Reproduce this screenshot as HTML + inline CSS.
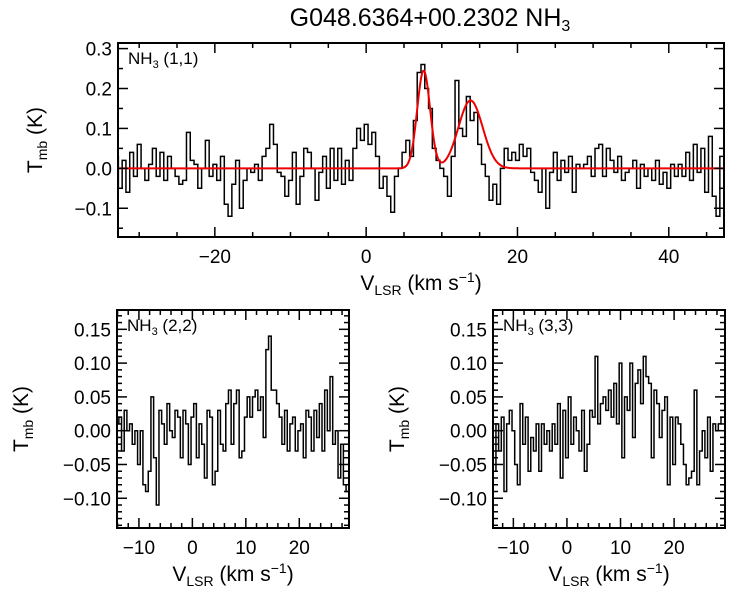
<!DOCTYPE html>
<html><head><meta charset="utf-8"><style>
body{margin:0;background:#fff;}
svg{display:block;font-family:"Liberation Sans",Arial,sans-serif;}
</style></head><body>
<svg id="c" width="750" height="600" viewBox="0 0 750 600"></svg>
<script>
const topStart=-33, topStep=0.5;
const topValues=[0.03,-0.05,0.02,-0.06,0.04,-0.02,0.06,0.00,-0.03,0.01,0.05,
-0.02,0.04,-0.03,0.03,0.00,-0.02,-0.04,-0.03,0.09,0.02,
0.01,-0.05,0.00,0.07,-0.02,0.01,-0.03,0.03,-0.09,-0.12,
-0.04,0.02,-0.10,-0.03,0.00,-0.01,0.01,-0.03,0.03,0.05,
0.11,0.06,-0.01,-0.02,-0.07,-0.03,0.04,-0.09,-0.02,0.05,
0.04,0.00,-0.08,-0.01,0.03,-0.05,0.05,-0.03,0.05,-0.04,
0.02,-0.03,0.05,0.10,0.07,0.11,0.06,0.09,0.03,-0.05,
-0.02,-0.07,-0.11,-0.02,0.00,0.04,0.07,0.03,0.12,0.24,
0.26,0.20,0.15,0.05,0.02,0.00,-0.02,-0.07,0.03,0.22,
0.10,0.08,0.18,0.12,0.14,0.06,0.01,-0.02,-0.08,-0.04,
-0.09,0.00,0.05,0.02,0.04,0.02,0.06,0.03,0.05,-0.01,
-0.03,-0.06,0.00,-0.10,-0.01,0.04,-0.03,0.02,-0.01,0.03,
-0.06,0.01,0.00,0.01,0.03,-0.02,0.05,0.06,-0.02,0.05,
0.02,-0.01,0.03,-0.03,-0.01,0.00,0.02,-0.05,0.01,-0.02,
0.00,-0.03,0.02,-0.04,-0.01,-0.05,0.01,-0.02,0.01,-0.02,
0.04,-0.03,0.06,-0.01,0.05,-0.06,0.08,-0.07,-0.12,0.03];
const fitAmps=[0.245,0.17];
const fitCenters=[7.6,13.8];
const fitSigmas=[0.85,1.6];
const lowStart=-14, lowStep=0.5;
const values22=[0.01,0.02,-0.03,0.03,0.00,0.01,-0.02,0.00,-0.05,0.00,
-0.08,-0.09,-0.06,0.05,-0.04,-0.11,0.03,0.01,-0.02,0.04,
0.00,-0.01,0.03,0.02,-0.04,0.03,0.01,-0.05,0.02,0.04,
-0.04,0.01,-0.02,-0.07,0.03,0.02,-0.08,-0.06,0.03,-0.02,
-0.03,0.04,0.06,-0.02,0.04,0.06,-0.04,-0.03,0.02,0.05,
0.02,0.05,0.06,0.03,0.05,-0.01,0.12,0.14,0.06,0.06,
0.04,0.02,-0.02,0.03,-0.03,0.01,0.02,-0.03,0.00,0.01,
-0.04,0.03,0.02,-0.03,0.03,-0.01,0.04,-0.03,0.06,0.00,
0.08,-0.02,0.00,-0.07,-0.02,-0.08,-0.09];
const values33=[0.03,-0.06,0.01,-0.03,0.02,-0.09,0.01,0.03,0.00,-0.05,
-0.08,0.04,-0.02,0.02,-0.06,-0.01,-0.03,0.01,-0.06,0.01,
-0.02,0.00,-0.03,0.01,-0.02,0.04,-0.07,0.03,-0.04,0.05,
-0.02,0.02,0.00,-0.03,0.03,-0.06,-0.02,0.03,0.02,0.11,
0.01,0.04,0.05,0.03,0.06,0.02,0.07,0.01,0.10,-0.04,
0.05,0.03,0.10,-0.01,0.07,0.09,0.04,0.11,0.08,0.07,
-0.04,0.06,0.04,-0.01,0.03,0.05,-0.08,0.02,-0.05,0.02,
0.01,-0.02,-0.05,-0.08,-0.07,-0.06,0.06,-0.08,-0.03,0.00,
-0.04,0.02,-0.06,0.01,0.00,0.01,0.02];
const topXTicks=[-20,0,20,40];
const topYTicks=[-0.1,0.0,0.1,0.2,0.3];
const lowXTicks=[-10,0,10,20];
const lowYTicks=[-0.10,-0.05,0.00,0.05,0.10,0.15];

const NS="http://www.w3.org/2000/svg";
const svg=document.getElementById('c');
function mk(tag,attrs,parent){const e=document.createElementNS(NS,tag);for(const k in attrs)e.setAttribute(k,attrs[k]);(parent||svg).appendChild(e);return e;}

function panel(o){
  const g=mk('g',{});
  
  
  const sx=v=>o.x0+(v-o.xmin)/(o.xmax-o.xmin)*(o.x1-o.x0);
  const sy=v=>o.y1-(v-o.ymin)/(o.ymax-o.ymin)*(o.y1-o.y0);
  const cid='clip-'+o.name;
  const cp=mk('clipPath',{id:cid},g);mk('rect',{x:o.x0,y:o.y0,width:o.x1-o.x0,height:o.y1-o.y0},cp);
  // histogram
  let d='';
  o.vals.forEach((v,i)=>{const xc=o.start+i*o.step;const xa=sx(xc-o.step/2),xb=sx(xc+o.step/2),y=sy(v);
    d+=(i===0?'M'+xa+','+y:'L'+xa+','+y)+' L'+xb+','+y+' ';});
  const h=mk('path',{d:d,fill:'none',stroke:'#000','stroke-width':1.5,'clip-path':'url(#'+cid+')'},g);
  
  
  if(o.fit){
    let fd='';
    for(let px=o.x0;px<=o.x1;px+=1){const v=o.xmin+(px-o.x0)/(o.x1-o.x0)*(o.xmax-o.xmin);
      let s=0;for(let k=0;k<fitAmps.length;k++)s+=fitAmps[k]*Math.exp(-0.5*Math.pow((v-fitCenters[k])/fitSigmas[k],2));
      fd+=(px===o.x0?'M':'L')+px+','+sy(s)+' ';}
    const f=mk('path',{d:fd,fill:'none',stroke:'#e00','stroke-width':2,'clip-path':'url(#'+cid+')'},g);
    
    
  }
  // box
  const b=mk('rect',{x:o.x0,y:o.y0,width:o.x1-o.x0,height:o.y1-o.y0,fill:'none',stroke:'#000','stroke-width':2},g);
  
  
  // minor x ticks
  for(let v=Math.ceil(o.xmin/o.xminor)*o.xminor;v<=o.xmax;v+=o.xminor){const x=sx(v);
    const major=Math.abs(v/o.xmajor-Math.round(v/o.xmajor))<1e-6;const L=major?10:5;
    mk('line',{x1:x,x2:x,y1:o.y1,y2:o.y1-L,stroke:'#000','stroke-width':1.5},g);
    mk('line',{x1:x,x2:x,y1:o.y0,y2:o.y0+L,stroke:'#000','stroke-width':1.5},g);}
  for(let v=Math.ceil(o.ymin/o.yminor-1e-6)*o.yminor;v<=o.ymax+1e-9;v+=o.yminor){const y=sy(v);
    const major=Math.abs(v/o.ymajor-Math.round(v/o.ymajor))<1e-6;const L=major?10:5;
    mk('line',{x1:o.x0,x2:o.x0+L,y1:y,y2:y,stroke:'#000','stroke-width':1.5},g);
    mk('line',{x1:o.x1,x2:o.x1-L,y1:y,y2:y,stroke:'#000','stroke-width':1.5},g);}
  o.xt.forEach(v=>{const t=mk('text',{x:sx(v),y:o.y1+26,'text-anchor':'middle','font-size':19},g);
    t.textContent=(v<0?'\u2212'+Math.abs(v):''+v);
    
    });
  o.yt.forEach(v=>{const t=mk('text',{x:o.x0-6,y:sy(v)+7,'text-anchor':'end','font-size':19},g);
    t.textContent=(v<0?'\u2212':'')+Math.abs(v).toFixed(o.yd);
    
    });
  // label
  const lb=mk('text',{x:o.x0+10,y:o.y0+21,'font-size':17},g);
  lb.innerHTML='NH<tspan font-size="11" dy="4">3</tspan><tspan dy="-4"> ('+o.tr+')</tspan>';
  
  
  // axis titles
  const xt=mk('text',{x:(o.x0+o.x1)/2,y:o.y1+53,'text-anchor':'middle','font-size':21},g);
  xt.innerHTML='V<tspan font-size="14" dy="5">LSR</tspan><tspan dy="-5"> (km s</tspan><tspan font-size="14" dy="-8">\u22121</tspan><tspan dy="8">)</tspan>';
  
  
  const cy=(o.y0+o.y1)/2;
  const yt=mk('text',{x:o.ytx,y:cy,'text-anchor':'middle','font-size':21,transform:'rotate(-90 '+o.ytx+' '+cy+')'},g);
  yt.innerHTML='T<tspan font-size="14" dy="5">mb</tspan><tspan dy="-5"> (K)</tspan>';
  
  
}

const title=mk('text',{x:430,y:26,'text-anchor':'middle','font-size':25});
title.innerHTML='G048.6364+00.2302 NH<tspan font-size="16" dy="5">3</tspan>';



panel({name:'panel-nh3-11',x0:118,x1:724,y0:43,y1:237,xmin:-32.8,xmax:47.3,ymin:-0.172,ymax:0.314,
  vals:topValues,start:topStart,step:topStep,fit:true,xt:topXTicks,yt:topYTicks,xminor:5,xmajor:20,yminor:0.05,ymajor:0.1,yd:1,tr:'1,1',ytx:42});
panel({name:'panel-nh3-22',x0:117,x1:349,y0:310,y1:528,xmin:-14.1,xmax:29.3,ymin:-0.144,ymax:0.1786,
  vals:values22,start:lowStart,step:lowStep,fit:false,xt:lowXTicks,yt:lowYTicks,xminor:2,xmajor:10,yminor:0.01,ymajor:0.05,yd:2,tr:'2,2',ytx:28});
panel({name:'panel-nh3-33',x0:493,x1:725,y0:310,y1:528,xmin:-13.8,xmax:29.5,ymin:-0.144,ymax:0.1786,
  vals:values33,start:lowStart,step:lowStep,fit:false,xt:lowXTicks,yt:lowYTicks,xminor:2,xmajor:10,yminor:0.01,ymajor:0.05,yd:2,tr:'3,3',ytx:404});
</script>
</body></html>
